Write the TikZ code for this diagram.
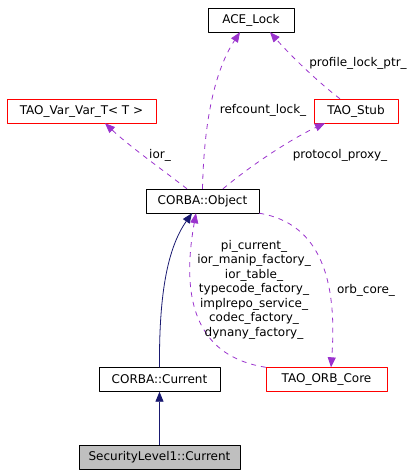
\documentclass[tikz,border=0pt]{standalone}
\usepackage{fontspec}
\setmainfont{DejaVu Sans}
\usetikzlibrary{arrows.meta}
\definecolor{depcol}{HTML}{9A32CD}
\definecolor{inhcol}{HTML}{191970}
\begin{document}
\begin{tikzpicture}[x=1pt,y=-1pt,line join=round,>={Triangle[length=10pt,width=8pt]}]
	\tikzset{every node/.style={font=\fontsize{12}{14.5}\selectfont},
		cls/.style={draw,minimum height=24pt,inner sep=0pt},
		clsred/.style={cls,draw=red},
		dep/.style={->,depcol,dashed,dash pattern=on 5pt off 5pt,line width=0.8pt},
		inh/.style={->,inhcol,line width=0.8pt}}
	\useasboundingbox (0,0) rectangle (415,475);
	% classes
	\node[cls,minimum width=86pt] (ace) at (251,20) {ACE\_Lock};
	\node[clsred,minimum width=149pt] (var) at (81.5,111) {TAO\_Var\_Var\_T\textless{} T \textgreater};
	\node[clsred,minimum width=84pt] (stub) at (356,111) {TAO\_Stub};
	\node[cls,minimum width=113pt] (obj) at (202.5,201) {CORBA::Object};
	\node[cls,minimum width=121pt] (cur) at (159.5,379.5) {CORBA::Current};
	\node[clsred,minimum width=121pt] (orb) at (326.5,379.5) {TAO\_ORB\_Core};
	\node[cls,fill=black!25,minimum width=161pt] (sec) at (159.5,457.5) {SecurityLevel1::Current};
	% inheritance
	\draw[inh] (sec.north) -- (cur.south);
	\draw[inh] (cur.north) .. controls (159,300) and (166,250) .. ([xshift=-10.5pt]obj.south);
	% members
	\draw[dep] ([xshift=-15.5pt]obj.north) .. controls (160,168) and (128,145) .. ([xshift=23.5pt]var.south);
	\draw[dep] (obj.north) .. controls (204,120) and (215,70) .. ([xshift=-11pt]ace.south);
	\draw[dep] ([xshift=20.5pt]obj.north) .. controls (255,162) and (295,137) .. ([xshift=-31pt]stub.south);
	\draw[dep] ([xshift=-16pt]stub.north) .. controls (318,82) and (292,57) .. ([xshift=19pt]ace.south);
	\draw[dep] (obj.south east) .. controls (300,220) and (340,250) .. ([xshift=4.5pt]orb.north);
	\draw[dep] (orb.north west) .. controls (220,360) and (175,330) .. ([xshift=-6.5pt]obj.south);
	% labels
	\node (lior) at (160,155) {ior\_};
	\node (lref) at (263,110) {refcount\_lock\_};
	\node (lprot) at (340,155) {protocol\_proxy\_};
	\node (lprof) at (358,63) {profile\_lock\_ptr\_};
	\node (lorb) at (366,290.5) {orb\_core\_};
	\node[align=center] (lmem) at (254,289.5) {pi\_current\_\\ior\_manip\_factory\_\\ior\_table\_\\typecode\_factory\_\\implrepo\_service\_\\codec\_factory\_\\dynany\_factory\_};
\end{tikzpicture}
\end{document}
